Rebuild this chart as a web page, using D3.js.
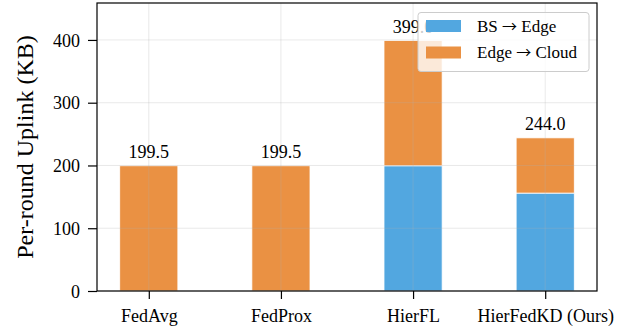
<!DOCTYPE html>
<html><head><meta charset="utf-8">
<script src="https://cdn.jsdelivr.net/npm/d3@7"></script>
<style>body{margin:0;background:#fff}svg{display:block}text{font-family:"Liberation Serif","Times New Roman",serif;fill:#000}</style>
</head><body><div id="c"></div>
<script>
const categories = ["FedAvg","FedProx","HierFL","HierFedKD (Ours)"];
const bsEdge = [0, 0, 199.5, 156.0];
const edgeCloud = [199.5, 199.5, 199.5, 88.0];
const totalLabels = ["199.5","199.5","399.0","244.0"];
const yTicks = [0,100,200,300,400];
const seriesNames = [["BS","Edge"],["Edge","Cloud"]];
const colors = ["rgb(82,167,224)","rgb(234,145,67)"];

const W=624,H=326, L=97,R=597,T=3,B=291;
const svg=d3.select("#c").append("svg").attr("width",W).attr("height",H);
const bw=0.44;
const x=d3.scaleLinear().domain([-bw/2-0.05*(3+bw), 3+bw/2+0.05*(3+bw)]).range([L,R]);
const y=d3.scaleLinear().domain([0,458.85]).range([B,T]);
const totals=categories.map((c,i)=>bsEdge[i]+edgeCloud[i]);

const g=svg.append("g");
categories.forEach((c,i)=>{
  const x0=x(i-bw/2), w=x(i+bw/2)-x(i-bw/2);
  if(bsEdge[i]>0) g.append("rect").attr("x",x0).attr("width",w).attr("y",y(bsEdge[i])).attr("height",y(0)-y(bsEdge[i]))
     .attr("fill",colors[0]).attr("stroke","#fff").attr("stroke-width",0.8);
  g.append("rect").attr("x",x0).attr("width",w).attr("y",y(totals[i])).attr("height",y(bsEdge[i])-y(totals[i]))
     .attr("fill",colors[1]).attr("stroke","#fff").attr("stroke-width",0.8);
});
const grid=svg.append("g").attr("stroke","rgb(176,176,176)").attr("stroke-opacity",0.35).attr("stroke-width",0.8);
yTicks.forEach(t=>grid.append("line").attr("x1",L).attr("x2",R).attr("y1",y(t)).attr("y2",y(t)));
categories.forEach((c,i)=>grid.append("line").attr("x1",x(i)).attr("x2",x(i)).attr("y1",T).attr("y2",B));

categories.forEach((c,i)=>svg.append("text").attr("x",x(i)).attr("y",y(totals[i])-7.5).attr("text-anchor","middle")
  .attr("font-size",18).text(totalLabels[i]));

const ya=svg.append("g").attr("transform",`translate(${L},0)`).call(d3.axisLeft(y).tickValues(yTicks).tickSize(9).tickPadding(8));
const xa=svg.append("g").attr("transform",`translate(0,${B})`).call(d3.axisBottom(x).tickValues([0,1,2,3]).tickFormat(i=>categories[i]).tickSize(8).tickPadding(6));
[ya,xa].forEach(a=>{a.attr("font-family",null).attr("font-size",null);a.select(".domain").remove();a.selectAll("line").attr("stroke","#000").attr("stroke-width",1.2);
  a.selectAll("text").attr("font-size",18).attr("fill","#000");});
xa.selectAll("text").attr("y",31).attr("dy",0);
ya.selectAll("text").attr("dy","0.34em");
svg.append("rect").attr("x",L).attr("y",T).attr("width",R-L).attr("height",B-T).attr("fill","none").attr("stroke","#000").attr("stroke-width",1.2);

svg.append("text").attr("transform",`translate(33,147) rotate(-90)`).attr("text-anchor","middle")
  .attr("font-size",24).text("Per-round Uplink (KB)");

const lg=svg.append("g");
lg.append("rect").attr("x",418).attr("y",12.5).attr("width",171).attr("height",59).attr("rx",3)
  .attr("fill","#fff").attr("fill-opacity",0.8).attr("stroke","#ccc").attr("stroke-width",1);
seriesNames.forEach((s,k)=>{
  const cy=26+k*26.5;
  lg.append("rect").attr("x",426).attr("y",cy-6).attr("width",35).attr("height",12).attr("fill",colors[k]);
  const t=lg.append("text").attr("x",477).attr("y",cy).attr("dy","0.35em").attr("font-size",17);
  t.append("tspan").text(s[0]+" ");
  t.append("tspan").attr("font-family","Noto Sans CJK SC").attr("font-size",15).text("\u2192");
  t.append("tspan").text(" "+s[1]);
});
</script></body></html>
